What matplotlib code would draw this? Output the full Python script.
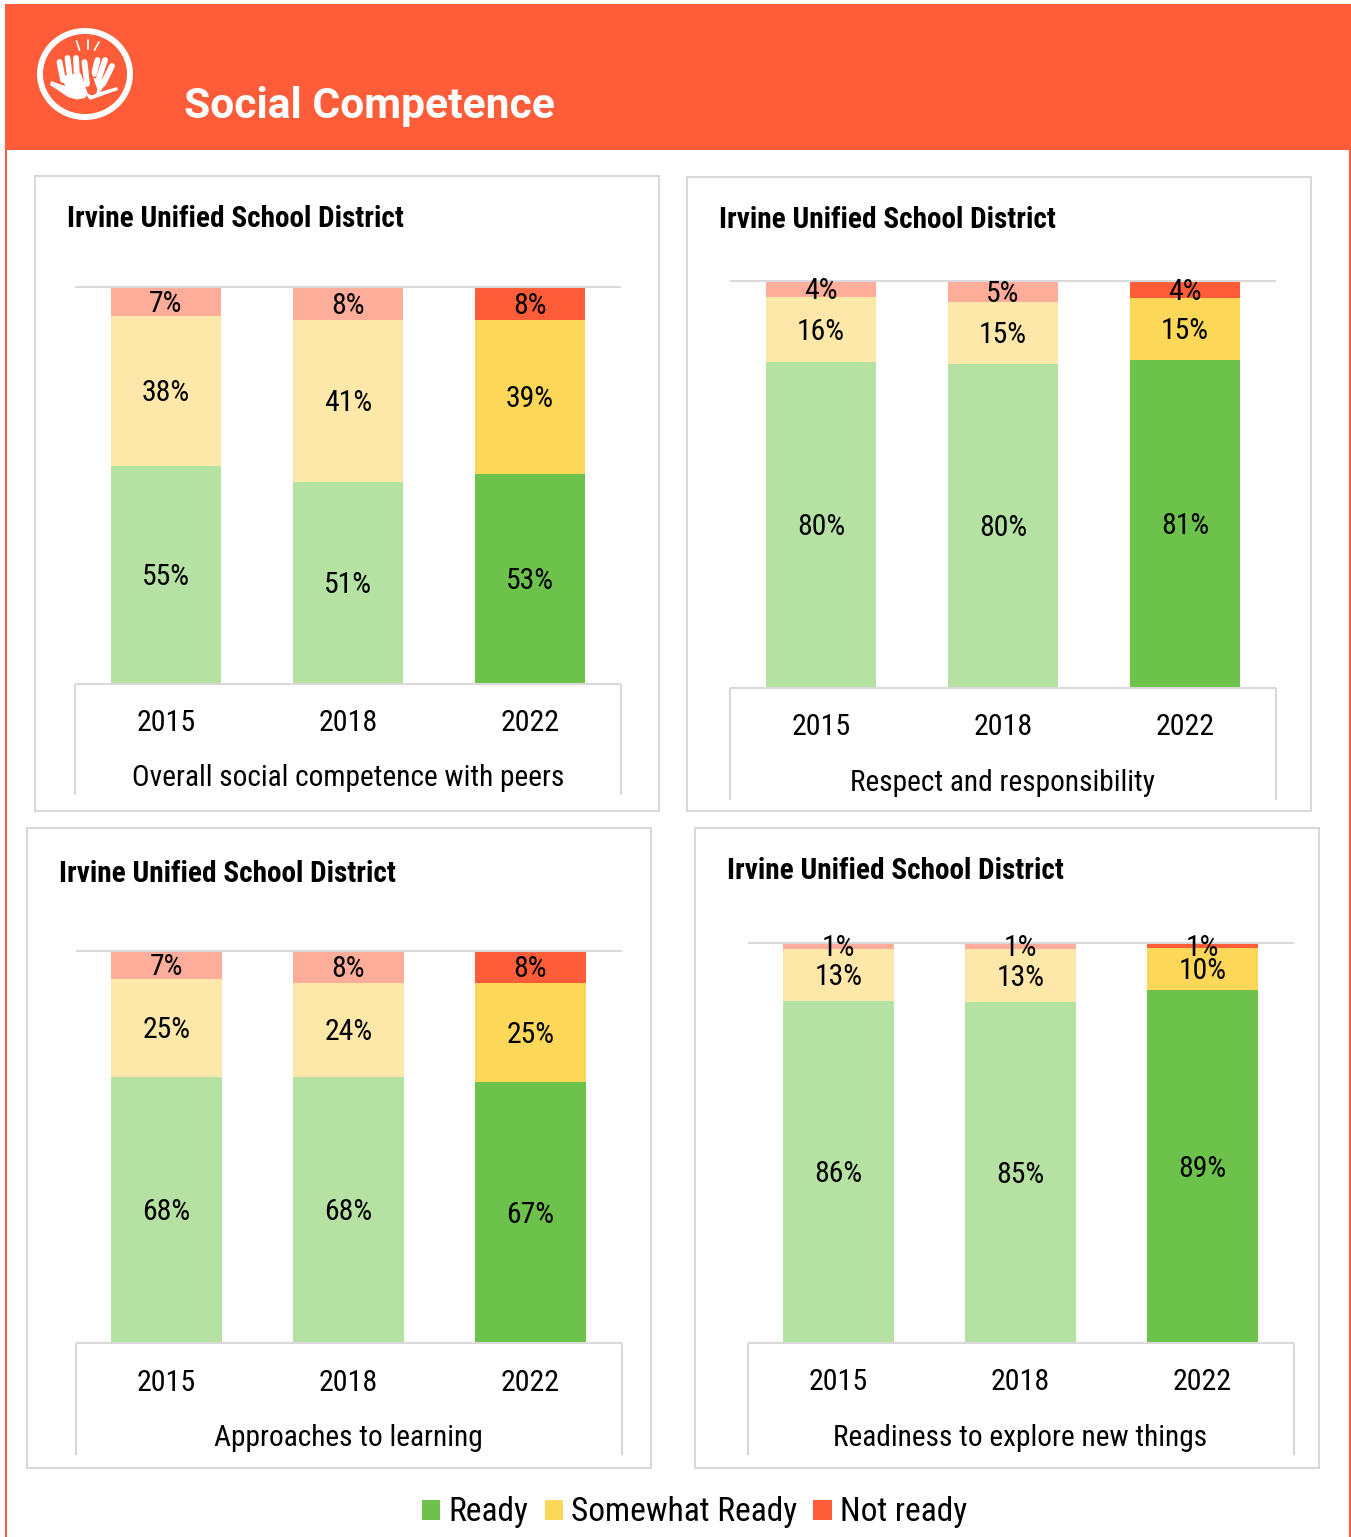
import matplotlib
matplotlib.use("Agg")
import matplotlib.pyplot as plt
from matplotlib.patches import Rectangle, Ellipse, Polygon, Patch

plt.rcParams['font.family'] = ['Roboto Condensed', 'DejaVu Sans']

# ---- data ----
years = ['2015', '2018', '2022']
district = 'Irvine Unified School District'
measures = ['Overall social competence with peers', 'Respect and responsibility',
            'Approaches to learning', 'Readiness to explore new things']
legend_labels = ['Ready', 'Somewhat Ready', 'Not ready']
page_title = 'Social Competence'

ready = [[54.9, 50.9, 52.9], [80.1, 79.6, 80.6], [67.9, 67.9, 66.6], [85.5, 85.3, 88.6]]
somewhat = [[37.8, 40.8, 38.8], [16.0, 15.2, 15.2], [25.0, 24.0, 25.3], [13.0, 13.3, 10.4]]
not_ready = [[7.3, 8.3, 8.3], [3.9, 5.2, 4.2], [7.1, 8.1, 8.1], [1.4, 1.4, 1.3]]

# ---- colours ----
ORANGE = '#FF5C39'
C_READY, C_SOME, C_NOT = '#6CC24A', '#FDD757', '#FF5C39'
L_READY, L_SOME, L_NOT = '#B5E1A3', '#FDE8A9', '#FFAD9B'
GRAY = '#D9D9D9'

W, H = 1351, 1537
fig = plt.figure(figsize=(W / 100, H / 100), dpi=100, facecolor='white')
bg = fig.add_axes([0, 0, 1, 1], zorder=0)
bg.set_xlim(0, W); bg.set_ylim(H, 0); bg.axis('off')

# page frame + header
bg.add_patch(Rectangle((5, 4), W - 5, 146, fc=ORANGE, ec='none'))
bg.add_patch(Rectangle((5, 150), 2.2, H - 150, fc=ORANGE, ec='none'))
bg.add_patch(Rectangle((1349, 150), 2, H - 150, fc=ORANGE, ec='none'))
bg.text(183.5, 106.5, page_title, color='white', fontsize=30.7, fontweight='bold',
        family='Roboto', va='center', ha='left')

# header icon
bg.add_patch(Ellipse((85, 74), 90, 86, fc='none', ec='white', lw=4.3))
for a, b in [((76.5, 41), (79.5, 50)), ((87.5, 39.5), (87.5, 49)), ((99, 42), (94.5, 50))]:
    bg.plot(*zip(a, b), color='white', lw=1.3, solid_capstyle='round')
# right hand
bg.add_patch(Polygon([(93, 78), (108, 80), (100, 92), (117, 87), (118, 90), (90, 100), (87, 96)],
                     fc='white', ec='none'))
for a, b in [((94, 74), (97.5, 60)), ((99, 78), (105, 60)), ((103, 84), (112, 66))]:
    bg.plot(*zip(a, b), color='white', lw=4.2, solid_capstyle='round')
bg.plot([83, 92], [64, 90], color=ORANGE, lw=7.5, solid_capstyle='round')
# left hand
bg.add_patch(Polygon([(62, 76), (88, 72), (91, 90), (85, 98), (77, 99.5), (68, 97), (50, 85),
                      (51, 81), (65, 86)], fc='white', ec='none'))
for a, b in [((63, 80), (59.5, 62)), ((70, 78), (67.5, 58)), ((77, 78), (76, 58)), ((87, 84), (84.5, 62))]:
    bg.plot(*zip(a, b), color='white', lw=4.2, solid_capstyle='round')

# panels: card (l, t, r, b), axes (l, t, r, b), title (x, y), tick y, label y, line end y
panels = [
    ((35, 176, 659, 811), (75, 287, 621, 684), (67, 219), 723, 778, 795),
    ((687, 177, 1311, 811), (730, 281, 1276, 688), (719, 220), 727, 783, 800),
    ((27, 828, 651, 1468), (75.5, 951, 621.5, 1343), (59, 874), 1383, 1438, 1455),
    ((695, 828, 1319, 1468), (747.5, 943, 1293.5, 1343), (727, 871), 1382, 1438, 1455),
]

for i, (card, box, tpos, ty, ly, ey) in enumerate(panels):
    bg.add_patch(Rectangle((card[0], card[1]), card[2] - card[0], card[3] - card[1],
                           fc='white', ec=GRAY, lw=1.5))
    bg.text(tpos[0], tpos[1], district, fontsize=21.1, fontweight='bold',
            color='black', va='center', ha='left')
    l, t, r, b = box
    ax = fig.add_axes([l / W, 1 - b / H, (r - l) / W, (b - t) / H], zorder=1)
    ax.patch.set_alpha(0)
    x = range(len(years))
    tot = [ready[i][k] + somewhat[i][k] + not_ready[i][k] for k in x]
    for k in x:
        seg = [ready[i][k], somewhat[i][k], not_ready[i][k]]
        cols = [C_READY, C_SOME, C_NOT] if k == 2 else [L_READY, L_SOME, L_NOT]
        base = 0.0
        for v, c in zip(seg, cols):
            h = v / tot[k] * 100
            ax.bar(k, h, bottom=base, width=0.607, color=c, zorder=2)
            ax.annotate(f'{v:.0f}%', (k, base + h / 2), xytext=(0, -1.7),
                        textcoords='offset points', ha='center', va='center',
                        fontsize=21.4, color='black', zorder=3, annotation_clip=False)
            base += h
    ax.set_xlim(-0.5, 2.5)
    ax.set_ylim(0, 100)
    ax.set_yticks([])
    ax.set_xticks(list(x))
    ax.set_xticklabels(years, fontsize=21.6, va='center')
    ax.tick_params(axis='x', length=0, pad=(ty - b) * 0.72)
    ax.set_xlabel(measures[i], fontsize=21.2, va='center')
    ax.xaxis.set_label_coords(0.5, -(ly - b) / (b - t))
    for s in ('left', 'right'):
        ax.spines[s].set_visible(False)
    for s in ('top', 'bottom'):
        ax.spines[s].set_color(GRAY)
        ax.spines[s].set_linewidth(1.5)
        ax.spines[s].set_capstyle('butt')
    for xf in (0, 1):
        ax.plot([xf, xf], [0, -(ey - b) / (b - t)], transform=ax.transAxes,
                color=GRAY, lw=1.5, clip_on=False, solid_capstyle='butt')

handles = [Patch(fc=C_READY, label=legend_labels[0]),
           Patch(fc=C_SOME, label=legend_labels[1]),
           Patch(fc=C_NOT, label=legend_labels[2])]
fig.legend(handles=handles, ncol=3, loc='center', bbox_to_anchor=(694.5 / W, 1 - 1512.5 / H),
           frameon=False, fontsize=24, handlelength=0.55, handleheight=0.55,
           handletextpad=0.24, columnspacing=0.49, borderpad=0)

fig.savefig('out.png', dpi=100)
